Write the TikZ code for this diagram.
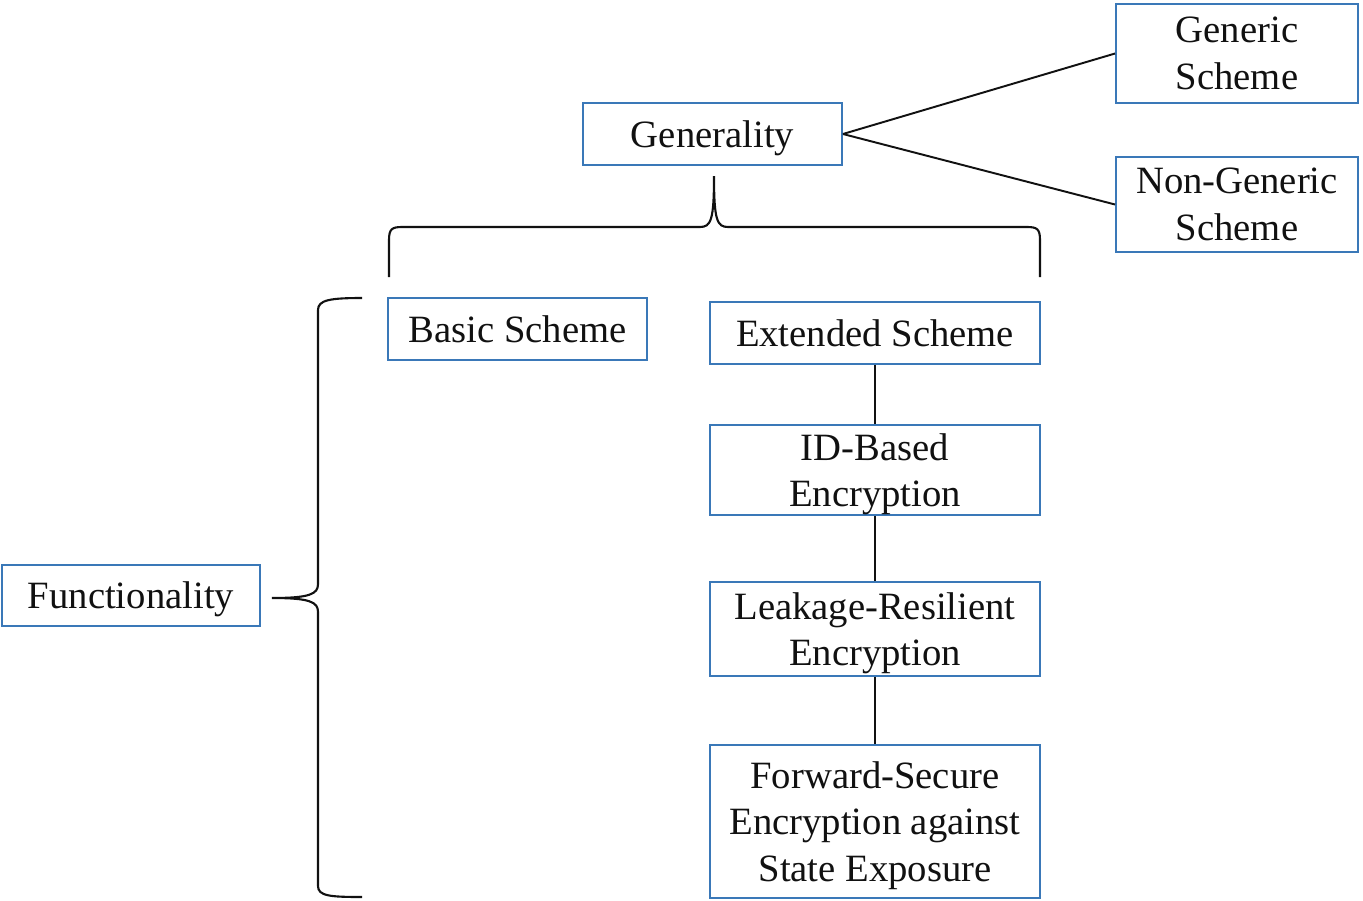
\documentclass[tikz,border=0pt]{standalone}
\usepackage{fontspec}
\setmainfont{Liberation Serif}
\usepackage{tikz}
\usetikzlibrary{positioning}
\definecolor{tbBlue}{HTML}{3A78B8}
\definecolor{tbInk}{HTML}{111111}
\tikzset{
  box/.style    ={draw=tbBlue,line width=1.1pt,fill=white,inner sep=0pt,align=center,
                  text=tbInk,text depth=0pt,font=\fontsize{22}{26.6}\selectfont},
  wbox/.style   ={box,minimum width=6.6cm},
  link/.style   ={tbInk,line width=1.1pt},
  brace/.style  ={tbInk,line width=1.2pt},
}
\begin{document}
\begin{tikzpicture}[x=0.02cm,y=-0.02cm]
\useasboundingbox (0,0) rectangle (1363,900);

\node[box,minimum width=5.18cm,minimum height=1.24cm] (gen) at (712.5,134) {Generality};
\node[box,minimum width=4.84cm,minimum height=1.98cm] (generic) at (1237,53.5) {Generic\\Scheme};
\node[box,minimum width=4.84cm,minimum height=1.90cm] (nongen) at (1237,204.5) {Non-Generic\\Scheme};

\node[box,minimum width=5.18cm,minimum height=1.24cm] (basic) at (517.5,329) {Basic Scheme};
\node[wbox,minimum height=1.24cm] (ext) at (875,333) {Extended Scheme};
\node[wbox,minimum height=1.80cm] (idb) at (875,470) {ID-Based\\Encryption};
\node[wbox,minimum height=1.88cm] (leak) at (875,629) {Leakage-Resilient\\Encryption};
\node[wbox,minimum height=3.06cm] (fwd) at (875,821.5)
  {Forward-Secure\\Encryption against\\State Exposure};

\node[box,minimum width=5.16cm,minimum height=1.22cm] (func) at (131,595.5) {Functionality};

\draw[link] (gen.east) -- (generic.west);
\draw[link] (gen.east) -- (nongen.west);
\draw[link] (ext) -- (idb);
\draw[link] (idb) -- (leak);
\draw[link] (leak) -- (fwd);

%% braces
\coordinate (gtip) at (714,176);
\coordinate (ftip) at (272,598);
\draw[brace] (389,277) -- (389,240) .. controls (389,229) and (392,227) .. (402,227)
  -- (700,227) .. controls (711,227) and (714,220) .. (gtip)
  .. controls (714,220) and (717,227) .. (728,227) -- (1027,227)
  .. controls (1037,227) and (1040,229) .. (1040,240) -- (1040,277);
\draw[brace] (362,298) .. controls (330,298) and (318,300) .. (318,310) -- (318,584)
  .. controls (318,594) and (310,598) .. (ftip)
  .. controls (310,598) and (318,602) .. (318,612) -- (318,886)
  .. controls (318,896) and (330,897) .. (362,897);
\end{tikzpicture}
\end{document}
